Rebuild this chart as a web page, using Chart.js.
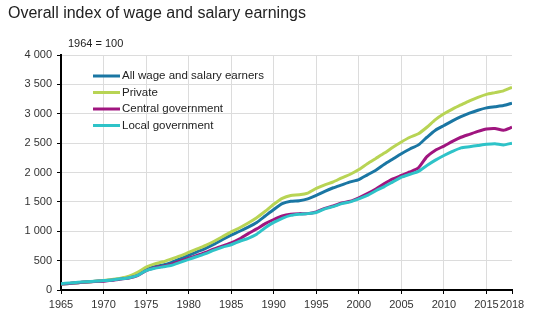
<!DOCTYPE html>
<html>
<head>
<meta charset="utf-8">
<script src="https://cdn.jsdelivr.net/npm/chart.js@4"></script>
<style>
  html, body { margin: 0; padding: 0; background: #fff; }
  #wrap { width: 552px; height: 330px; position: relative; }
</style>
</head>
<body>
<div id="wrap"><canvas id="wageChart" width="552" height="330"></canvas></div>
<script>
// Years and series (index 1964 = 100)
const years = [1965, 1966, 1967, 1968, 1969, 1970, 1971, 1972, 1973, 1974,
  1975, 1976, 1977, 1978, 1979, 1980, 1981, 1982, 1983, 1984,
  1985, 1986, 1987, 1988, 1989, 1990, 1991, 1992, 1993, 1994,
  1995, 1996, 1997, 1998, 1999, 2000, 2001, 2002, 2003, 2004,
  2005, 2006, 2007, 2008, 2009, 2010, 2011, 2012, 2013, 2014,
  2015, 2016, 2017, 2018];

const allEarners = [100, 112, 125, 137, 147, 158, 172, 192, 220, 265,
  345, 395, 425, 470, 530, 590, 650, 710, 780, 860,
  935, 1000, 1070, 1150, 1260, 1370, 1470, 1510, 1520, 1550,
  1610, 1680, 1740, 1790, 1840, 1880, 1960, 2040, 2140, 2230,
  2320, 2400, 2470, 2600, 2720, 2800, 2880, 2950, 3010, 3060,
  3100, 3120, 3140, 3180];

const privateSector = [100, 112, 125, 137, 148, 162, 180, 200, 235, 300,
  390, 445, 480, 530, 580, 640, 700, 760, 830, 910,
  990, 1060, 1140, 1230, 1340, 1460, 1560, 1610, 1620, 1650,
  1730, 1790, 1840, 1910, 1970, 2050, 2150, 2240, 2330, 2430,
  2520, 2600, 2660, 2770, 2900, 3000, 3080, 3150, 3220, 3280,
  3330, 3360, 3390, 3450];

const centralGov = [100, 112, 125, 136, 145, 150, 165, 185, 205, 245,
  330, 380, 405, 440, 490, 540, 590, 640, 700, 750,
  800, 870, 960, 1040, 1130, 1200, 1260, 1290, 1300, 1300,
  1330, 1390, 1430, 1480, 1510, 1570, 1640, 1720, 1810, 1890,
  1950, 2010, 2080, 2270, 2380, 2450, 2530, 2600, 2650, 2700,
  2740, 2750, 2720, 2770];

const localGov = [108, 118, 130, 140, 150, 160, 172, 190, 210, 250,
  330, 370, 395, 420, 470, 520, 570, 620, 680, 730,
  770, 830, 880, 950, 1060, 1150, 1220, 1270, 1290, 1300,
  1320, 1380, 1420, 1470, 1500, 1550, 1610, 1690, 1760, 1840,
  1920, 1970, 2020, 2120, 2210, 2290, 2360, 2420, 2440, 2460,
  2480, 2490, 2470, 2500];

const xTicks = [1965, 1970, 1975, 1980, 1985, 1990, 1995, 2000, 2005, 2010, 2015, 2018];
const yMax = 4000;
const yStep = 500;

const seriesNames = ['All wage and salary earners', 'Private', 'Central government', 'Local government'];
const seriesColors = ['#1a76a3', '#b8d454', '#a0157f', '#2ec3c8'];
const seriesValues = [allEarners, privateSector, centralGov, localGov];

const FONT = '"Liberation Sans", Arial, sans-serif';

// draw order: local, central, private, all on top
const drawOrder = [3, 2, 1, 0];
const datasets = drawOrder.map(i => ({
  label: seriesNames[i],
  data: years.map((y, k) => ({ x: y, y: seriesValues[i][k] })),
  borderColor: seriesColors[i],
  backgroundColor: seriesColors[i],
  borderWidth: 3,
  pointRadius: 0,
  tension: 0.2,
  fill: false,
}));

function spaceThousands(v) {
  return String(v).replace(/\B(?=(\d{3})+(?!\d))/g, ' ');
}

// title, base note and legend drawn inside the chart area
const extras = {
  id: 'extras',
  afterDraw(chart) {
    const ctx = chart.ctx;
    const area = chart.chartArea;
    ctx.save();
    ctx.fillStyle = '#222';
    ctx.font = '16px ' + FONT;
    ctx.textBaseline = 'middle';
    ctx.textAlign = 'left';
    ctx.fillText('Overall index of wage and salary earnings', 8, 14);

    ctx.font = '11px ' + FONT;
    ctx.fillStyle = '#222';
    ctx.fillText('1964 = 100', area.left + 7, 44);

    ctx.font = '11.5px ' + FONT;
    seriesNames.forEach((name, i) => {
      const y = 76 + i * 16.5;
      ctx.strokeStyle = seriesColors[i];
      ctx.lineWidth = 3;
      ctx.beginPath();
      ctx.moveTo(93, y);
      ctx.lineTo(120, y);
      ctx.stroke();
      ctx.fillStyle = '#222';
      ctx.fillText(name, 122, y);
    });
    ctx.restore();
  }
};

const config = {
  type: 'line',
  data: { datasets },
  options: {
    responsive: false,
    animation: false,
    layout: { padding: { top: 55, right: 40, left: 0, bottom: 0 } },
    plugins: {
      legend: { display: false },
      title: { display: false },
      tooltip: { enabled: false },
    },
    scales: {
      x: {
        type: 'linear',
        min: 1965,
        max: 2018,
        afterBuildTicks(scale) {
          scale.ticks = xTicks.map(v => ({ value: v }));
        },
        afterFit(scale) { scale.height = 40; },
        ticks: {
          autoSkip: false,
          maxRotation: 0,
          color: '#333',
          font: { family: FONT, size: 11 },
          padding: 4,
          callback: v => String(v),
        },
        grid: {
          color: ctx => (ctx.tick && ctx.tick.value === 2018 ? 'rgba(0,0,0,0)' : '#dcdcdc'),
          tickColor: '#000',
          tickLength: 4,
          lineWidth: 1,
        },
        border: { color: '#000', width: 2 },
      },
      y: {
        min: 0,
        max: yMax,
        afterFit(scale) { scale.width = 61; },
        ticks: {
          stepSize: yStep,
          color: '#333',
          font: { family: FONT, size: 11 },
          padding: 5,
          callback: v => spaceThousands(v),
        },
        grid: {
          color: '#dcdcdc',
          tickColor: '#000',
          tickLength: 4,
          lineWidth: 1,
        },
        border: { color: '#000', width: 2 },
      },
    },
  },
  plugins: [extras],
};

const ctx = document.getElementById('wageChart').getContext('2d');
new Chart(ctx, config);
</script>
</body>
</html>
